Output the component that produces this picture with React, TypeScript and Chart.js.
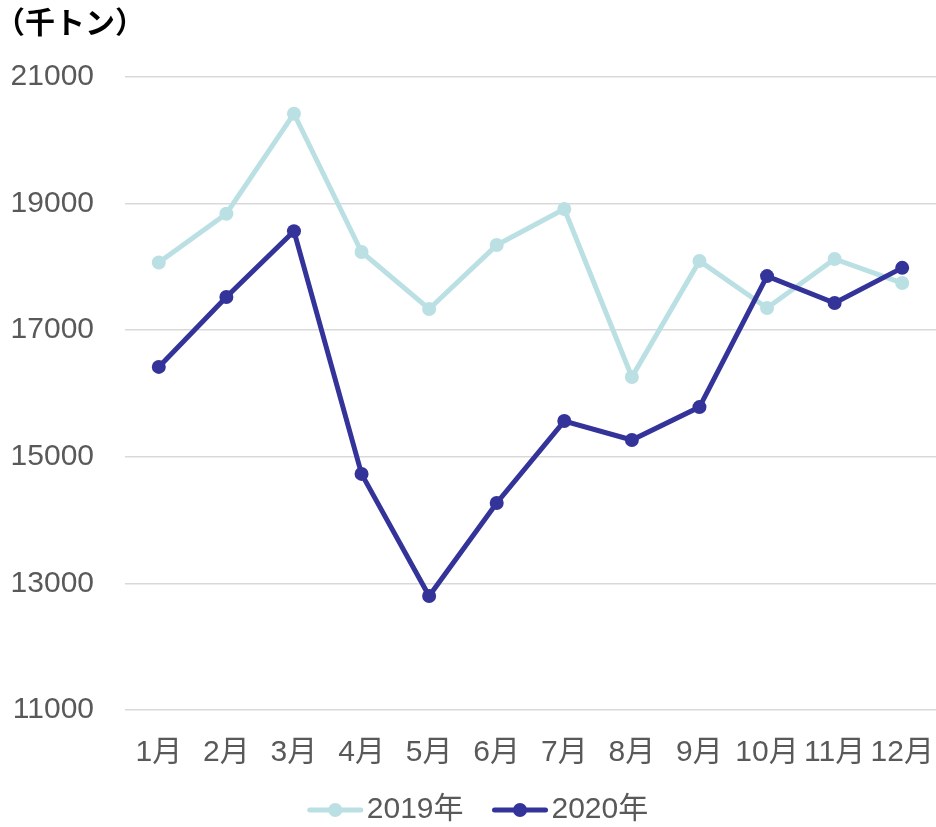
import React, { useEffect, useRef } from "react";
import { Chart, registerables } from "chart.js";

Chart.register(...registerables);

const months = ["1月", "2月", "3月", "4月", "5月", "6月", "7月", "8月", "9月", "10月", "11月", "12月"];
const seriesNames = ["2019年", "2020年"];
const values2019 = [18070, 18840, 20420, 18235, 17335, 18345, 18915, 16260, 18095, 17350, 18125, 17745];
const values2020 = [16420, 17525, 18565, 14730, 12800, 14270, 15565, 15265, 15785, 17855, 17430, 17985];
const yMin = 11000;
const yMax = 21000;
const yStep = 2000;
const unitLabel = "（千トン）";

const COLOR_2019 = "#BBE0E3";
const COLOR_2020 = "#333399";
const FONT = 'Arial, "Liberation Sans", "Noto Sans CJK JP", sans-serif';
const TEXT_COLOR = "#595959";

const overlayPlugin = {
  id: "overlay",
  afterDraw(chart: any) {
    const ctx = chart.ctx as CanvasRenderingContext2D;
    ctx.save();
    // unit label
    ctx.fillStyle = "#000000";
    ctx.font = 'bold 30px "Noto Sans CJK JP", sans-serif';
    ctx.textBaseline = "top";
    ctx.textAlign = "left";
    ctx.fillText(unitLabel, -5, 7);

    // legend
    ctx.font = "30px " + FONT;
    ctx.textBaseline = "middle";
    const lineW = 55;
    const gapText = 4;
    const gapItem = 29;
    const ds = chart.data.datasets;
    const widths = ds.map((d: any) => lineW + gapText + ctx.measureText(d.label).width);
    const total = widths.reduce((a: number, b: number) => a + b, 0) + gapItem * (ds.length - 1);
    let x = chart.width / 2 + 10 - total / 2;
    const y = 810;
    ds.forEach((d: any, i: number) => {
      ctx.strokeStyle = d.borderColor;
      ctx.lineWidth = 5;
      ctx.lineCap = "round";
      ctx.beginPath();
      ctx.moveTo(x + 2, y);
      ctx.lineTo(x + lineW - 2, y);
      ctx.stroke();
      ctx.fillStyle = d.pointBackgroundColor;
      ctx.beginPath();
      ctx.arc(x + lineW / 2, y, 7, 0, Math.PI * 2);
      ctx.fill();
      ctx.fillStyle = TEXT_COLOR;
      ctx.fillText(d.label, x + lineW + gapText, y);
      x += widths[i] + gapItem;
    });
    ctx.restore();
  },
};

export default function App() {
  const ref = useRef<HTMLCanvasElement | null>(null);
  useEffect(() => {
    if (!ref.current) return;
    const chart = new Chart(ref.current, {
      type: "line",
      data: {
        labels: months,
        datasets: [
          {
            label: seriesNames[0],
            data: values2019,
            borderColor: COLOR_2019,
            backgroundColor: COLOR_2019,
            pointBackgroundColor: COLOR_2019,
            pointBorderColor: COLOR_2019,
            borderWidth: 5,
            pointRadius: 7,
            pointBorderWidth: 0,
            tension: 0,
            clip: false,
            order: 1,
          },
          {
            label: seriesNames[1],
            data: values2020,
            borderColor: COLOR_2020,
            backgroundColor: COLOR_2020,
            pointBackgroundColor: COLOR_2020,
            pointBorderColor: COLOR_2020,
            borderWidth: 5,
            pointRadius: 7,
            pointBorderWidth: 0,
            tension: 0,
            clip: false,
            order: 0,
          },
        ],
      },
      options: {
        animation: false,
        responsive: false,
        maintainAspectRatio: false,
        devicePixelRatio: 1,
        layout: { autoPadding: false, padding: { top: 77, bottom: 37, left: 0, right: 0 } },
        plugins: {
          legend: { display: false },
          title: { display: false },
          tooltip: { enabled: false },
        },
        scales: {
          x: {
            offset: true,
            grid: { display: false, drawTicks: false },
            border: { display: false },
            ticks: {
              autoSkip: false,
              maxRotation: 0,
              minRotation: 0,
              padding: 25,
              color: TEXT_COLOR,
              font: { family: FONT, size: 30 },
            },
            afterFit: (scale: any) => {
              scale.height = 80;
              scale.paddingLeft = 0;
              scale.paddingRight = 0;
            },
          },
          y: {
            min: yMin,
            max: yMax,
            border: { display: false },
            grid: { color: "#D9D9D9", lineWidth: 1.5, drawTicks: false },
            ticks: {
              stepSize: yStep,
              padding: 31,
              color: TEXT_COLOR,
              font: { family: FONT, size: 30 },
              callback: (v: any) => String(v),
            },
            afterFit: (scale: any) => {
              scale.width = 125;
              scale.paddingTop = 0;
              scale.paddingBottom = 0;
            },
          },
        },
      },
      plugins: [overlayPlugin],
    });
    return () => chart.destroy();
  }, []);
  return (
    <div style={{ position: "absolute", left: 0, top: 0, width: 936, height: 827, background: "#fff" }}>
      <canvas ref={ref} width={936} height={827} style={{ width: 936, height: 827, display: "block" }} />
    </div>
  );
}
